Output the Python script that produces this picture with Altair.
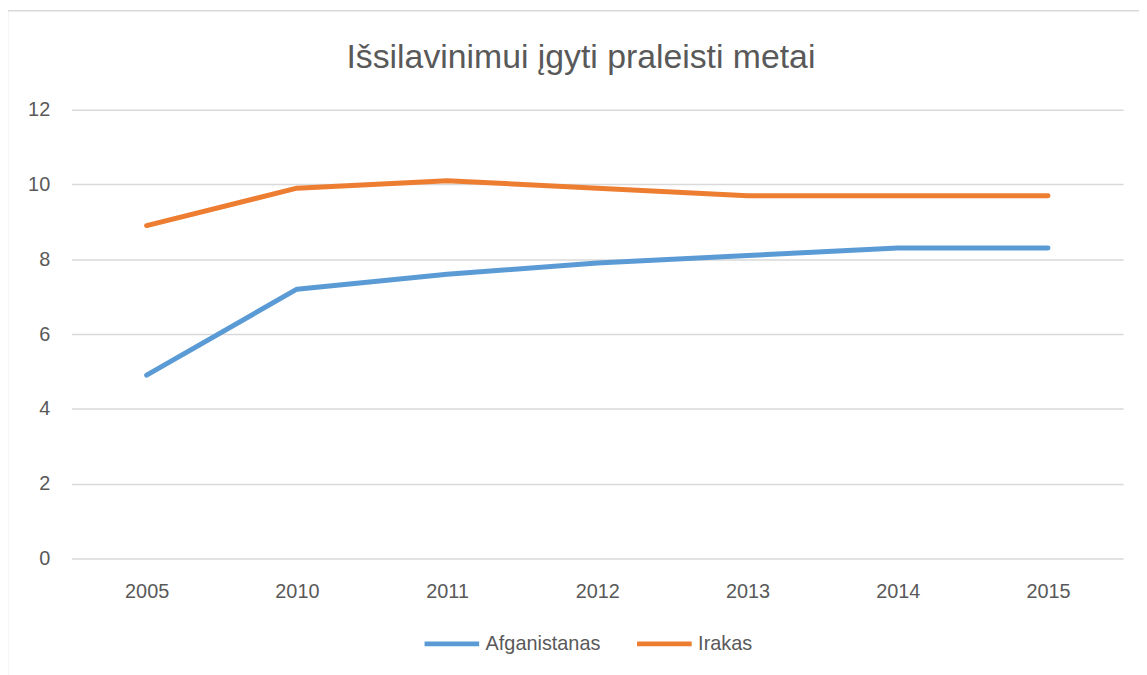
import altair as alt
import pandas as pd

years = ["2005", "2010", "2011", "2012", "2013", "2014", "2015"]
afganistanas = [4.9, 7.2, 7.6, 7.9, 8.1, 8.3, 8.3]
irakas = [8.9, 9.9, 10.1, 9.9, 9.7, 9.7, 9.7]
series = ["Afganistanas", "Irakas"]
colors = ["#5B9BD5", "#ED7D31"]
title_text = ["Išsilavinimui įgyti praleisti metai"]

rows = []
for y, v in zip(years, afganistanas):
    rows.append({"metai": y, "serija": series[0], "reiksme": v})
for y, v in zip(years, irakas):
    rows.append({"metai": y, "serija": series[1], "reiksme": v})
df = pd.DataFrame(rows)

FONT = "Liberation Sans"
GRAY = "#595959"

frame = alt.Chart(pd.DataFrame({"a": [0]})).mark_rect(
    fill="white", fillOpacity=0, stroke="#d9d9d9", strokeWidth=1.5
).encode(
    x=alt.value(-64.5), x2=alt.value(1300),
    y=alt.value(-99.5), y2=alt.value(800),
)

title = alt.Chart(pd.DataFrame({"t": title_text})).mark_text(
    font=FONT, fontSize=34, color=GRAY, align="center", baseline="alphabetic"
).encode(
    text="t:N", x=alt.value(513), y=alt.value(-42),
)

lines = alt.Chart(df).mark_line(strokeWidth=5, strokeCap="round", strokeJoin="round").encode(
    x=alt.X("metai:O", sort=years, title=None,
            axis=alt.Axis(labelAngle=0, domain=False, ticks=False, labelFont=FONT,
                          labelFontSize=20, labelColor=GRAY, labelPadding=23, grid=False)),
    y=alt.Y("reiksme:Q", title=None, scale=alt.Scale(domain=[0, 12]),
            axis=alt.Axis(values=[0, 2, 4, 6, 8, 10, 12], domain=False, ticks=False,
                          labelFont=FONT, labelFontSize=20, labelColor=GRAY,
                          labelPadding=22, gridColor="#d9d9d9", gridWidth=1.5)),
    color=alt.Color("serija:N", sort=series, title=None,
                    scale=alt.Scale(domain=series, range=colors),
                    legend=alt.Legend(orient="none", direction="horizontal",
                                      legendX=353, legendY=508,
                                      symbolType="stroke", symbolSize=3025,
                                      symbolStrokeWidth=5, labelFont=FONT,
                                      labelFontSize=20, labelColor=GRAY,
                                      labelOffset=4, columnPadding=26)),
)

chart = alt.layer(frame, title, lines).properties(
    width=1059, height=452,
    padding={"left": 64, "top": 100, "right": 16, "bottom": 115},
    autosize=alt.AutoSizeParams(type="none"),
).configure_view(stroke=None)

chart.save("out.html", embed_options={"renderer": "svg", "actions": False})
